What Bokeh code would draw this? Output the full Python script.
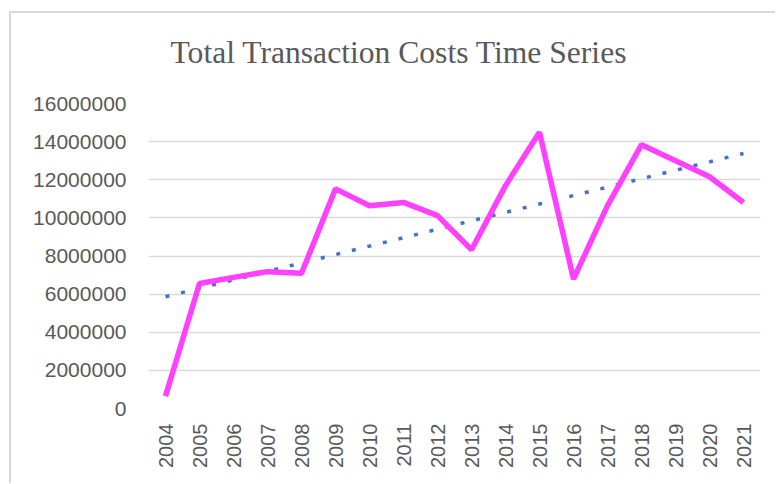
import numpy as np
from bokeh.plotting import figure
from bokeh.models import FactorRange, Range1d, NumeralTickFormatter
from bokeh.embed import file_html
from bokeh.resources import INLINE

years = [str(y) for y in range(2004, 2022)]
costs = [650000, 6560000, 6880000, 7180000, 7090000, 11520000, 10640000, 10810000,
         10120000, 8330000, 11690000, 14490000, 6790000, 10640000, 13840000,
         13000000, 12160000, 10810000]
y_ticks = list(range(0, 16000001, 2000000))

# linear trendline (as Excel computes it from the series)
idx = np.arange(len(costs))
slope, intercept = np.polyfit(idx, costs, 1)
trend = list(slope * idx + intercept)

p = figure(x_range=FactorRange(*years), y_range=Range1d(0, 16000000),
           width=766, height=486, output_backend="svg", toolbar_location=None,
           min_border_left=139, min_border_right=15, min_border_top=106,
           min_border_bottom=75)
p.border_fill_color = None
p.styles = {"position": "absolute", "left": "9px", "top": "-3px",
            "background-color": "white",
            "background-image": "linear-gradient(#d9d9d9,#d9d9d9), linear-gradient(#d9d9d9,#d9d9d9)",
            "background-size": "100% 2px, 2px 100%",
            "background-position": "0 14px, 0 14px",
            "background-repeat": "no-repeat"}

p.title.text = "Total Transaction Costs Time Series"
p.title.text_font = "Liberation Serif"
p.title.text_font_size = "31.6px"
p.title.text_font_style = "normal"
p.title.text_color = "#595959"
p.title.align = "left"
p.title.offset = 22
p.title.standoff = 68

p.line(years, trend, line_color="#4472C4", line_width=3.5, line_dash="4 12")
p.line(years, costs, line_color="#FF40FF", line_width=5.5)

p.outline_line_color = None
p.xgrid.grid_line_color = None
p.ygrid.grid_line_color = "#d9d9d9"
p.ygrid.grid_line_width = 1.5

p.yaxis.ticker = y_ticks
p.yaxis.formatter = NumeralTickFormatter(format="0")
p.yaxis.axis_line_color = None
p.yaxis.major_tick_line_color = None
p.yaxis.minor_tick_line_color = None
p.yaxis.major_tick_out = 0
p.yaxis.major_label_standoff = 22
p.yaxis.major_label_text_font = "Liberation Sans"
p.yaxis.major_label_text_font_size = "21px"
p.yaxis.major_label_text_color = "#595959"

p.xaxis.axis_line_color = None
p.xaxis.major_tick_line_color = None
p.xaxis.major_tick_out = 0
p.xaxis.major_label_orientation = np.pi / 2
p.xaxis.major_label_standoff = 15
p.xaxis.major_label_text_font = "Liberation Sans"
p.xaxis.major_label_text_font_size = "20px"
p.xaxis.major_label_text_color = "#595959"

open("out.html", "w").write(file_html(p, INLINE))
